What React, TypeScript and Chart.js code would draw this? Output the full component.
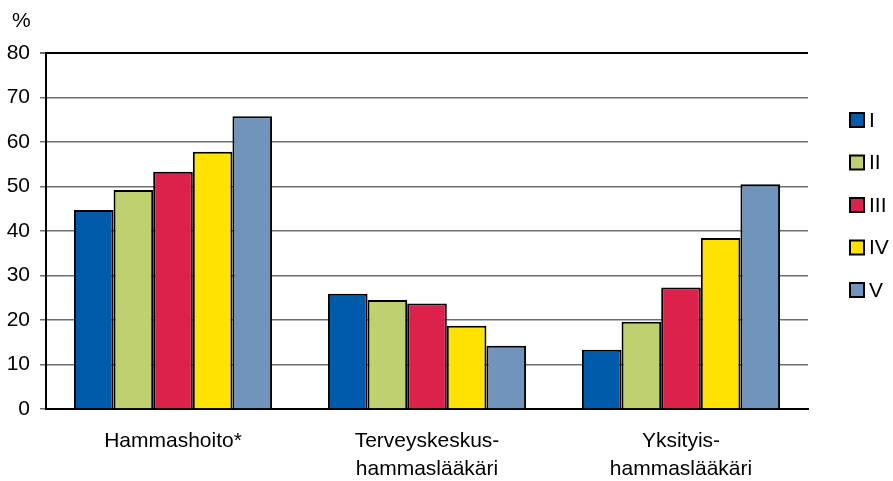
import { useEffect, useRef } from 'react';
import { Chart, registerables } from 'chart.js';

Chart.register(...registerables);

const categories: (string | string[])[] = [
  'Hammashoito*',
  ['Terveyskeskus-', 'hammaslääkäri'],
  ['Yksityis-', 'hammaslääkäri'],
];
const seriesNames = ['I', 'II', 'III', 'IV', 'V'];
const seriesI = [44.7, 25.9, 13.3];
const seriesII = [49.2, 24.5, 19.6];
const seriesIII = [53.3, 23.7, 27.3];
const seriesIV = [57.8, 18.7, 38.4];
const seriesV = [65.8, 14.2, 50.5];
const seriesColors = ['#005BAA', '#BFD071', '#DC214B', '#FFE200', '#7094BB'];
const yTicks = [0, 10, 20, 30, 40, 50, 60, 70, 80];
const unitLabel = '%';

const FONT = "'Liberation Sans', Arial, Helvetica, sans-serif";

const overlayPlugin = {
  id: 'overlay',
  afterDraw(chart: any) {
    const ctx = chart.ctx;
    ctx.save();
    ctx.font = `21px ${FONT}`;
    ctx.fillStyle = '#000';
    ctx.textBaseline = 'middle';
    ctx.textAlign = 'left';
    ctx.fillText(unitLabel, 12, 21);
    // legend
    const x0 = 850;
    const yStart = 120;
    const step = 42.5;
    chart.data.datasets.forEach((ds: any, i: number) => {
      const cy = yStart + i * step;
      ctx.fillStyle = ds.backgroundColor;
      ctx.fillRect(x0, cy - 7, 14, 14);
      ctx.lineWidth = 2;
      ctx.strokeStyle = '#000';
      ctx.strokeRect(x0, cy - 7, 14, 14);
      ctx.fillStyle = '#000';
      ctx.fillText(ds.label, x0 + 19, cy + 1);
    });
    ctx.restore();
  },
};

export default function App() {
  const ref = useRef<HTMLCanvasElement | null>(null);
  useEffect(() => {
    document.body.style.margin = '0';
    const seriesData = [seriesI, seriesII, seriesIII, seriesIV, seriesV];
    const chart = new Chart(ref.current as HTMLCanvasElement, {
      type: 'bar',
      data: {
        labels: categories,
        datasets: seriesNames.map((name, i) => ({
          label: name,
          data: seriesData[i],
          backgroundColor: seriesColors[i],
          borderColor: '#000',
          borderWidth: 2,
          categoryPercentage: 0.78,
          barPercentage: 1,
        })),
      },
      options: {
        animation: false,
        responsive: false,
        maintainAspectRatio: false,
        layout: { padding: { top: 53, right: 85, left: 0, bottom: 0 } },
        plugins: { legend: { display: false }, tooltip: { enabled: false } },
        scales: {
          x: {
            grid: { display: false, drawTicks: false },
            border: { display: true, color: '#000', width: 2 },
            ticks: {
              color: '#000',
              padding: 18,
              font: { family: FONT, size: 21, lineHeight: 1.35 },
              maxRotation: 0,
              autoSkip: false,
            },
            afterFit: (s: any) => { s.height = 72; },
          },
          y: {
            min: 0,
            max: 80,
            afterBuildTicks: (s: any) => { s.ticks = yTicks.map((v) => ({ value: v })); },
            grid: {
              color: (c: any) => (c.tick && c.tick.value === 80 ? '#000' : '#6e6e6e'),
              lineWidth: (c: any) => (c.tick && c.tick.value === 80 ? 2 : 1.5),
              tickColor: '#6e6e6e',
              tickLength: 6,
            },
            border: { display: true, color: '#000', width: 2 },
            ticks: {
              color: '#000',
              padding: 10,
              font: { family: FONT, size: 21 },
            },
            afterFit: (s: any) => { s.width = 46; },
          },
        },
      },
      plugins: [overlayPlugin],
    });
    return () => chart.destroy();
  }, []);
  return (
    <div style={{ position: 'relative', width: 893, height: 481 }}>
      <canvas ref={ref} width={893} height={481} style={{ width: 893, height: 481, display: 'block' }} />
    </div>
  );
}
